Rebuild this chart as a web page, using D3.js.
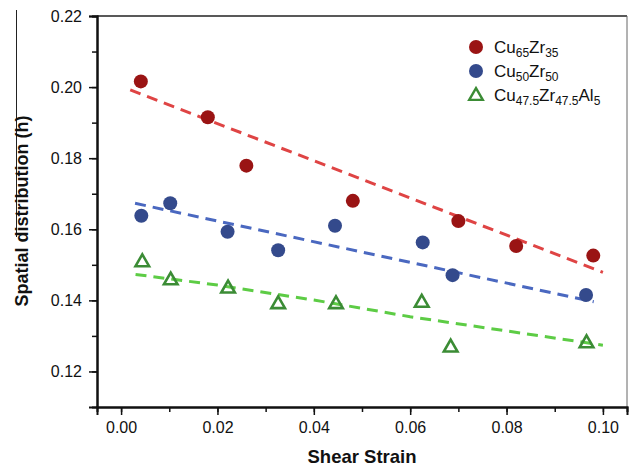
<!DOCTYPE html>
<html>
<head>
<meta charset="utf-8">
<script src="https://cdn.jsdelivr.net/npm/d3@7"></script>
<style>
  body { margin: 0; background: #fff; }
  svg { font-family: "Liberation Sans", Arial, sans-serif; }
</style>
</head>
<body>
<div class="chart"></div>
<script>
// data
var cu65X = [0.0041, 0.0180, 0.0260, 0.0481, 0.0700, 0.0820, 0.0980];
var cu65Y = [0.2016, 0.1915, 0.1779, 0.1680, 0.1623, 0.1553, 0.1526];
var cu50X = [0.0042, 0.0102, 0.0221, 0.0326, 0.0444, 0.0626, 0.0688, 0.0965];
var cu50Y = [0.1638, 0.1673, 0.1593, 0.1541, 0.1610, 0.1563, 0.1471, 0.1415];
var alX = [0.0044, 0.0103, 0.0222, 0.0326, 0.0446, 0.0624, 0.0684, 0.0966];
var alY = [0.1510, 0.1459, 0.1436, 0.1392, 0.1392, 0.1396, 0.1270, 0.1282];

// dashed fit lines
var fitRedX = [0.0019, 0.100];
var fitRedY = [0.1992, 0.1479];
var fitBlueX = [0.0029, 0.0981];
var fitBlueY = [0.1673, 0.1396];
var fitGreenX = [0.003, 0.02, 0.04, 0.06, 0.100];
var fitGreenY = [0.1473, 0.1443, 0.1401, 0.1354, 0.1274];

var xTicks = [0, 0.02, 0.04, 0.06, 0.08, 0.10];
var yTicks = [0.12, 0.14, 0.16, 0.18, 0.20, 0.22];

var width = 636, height = 471;
var margin = { top: 16, right: 9, bottom: 64, left: 97 };

var svg = d3.select(".chart")
    .append("svg")
    .attr("width", width)
    .attr("height", height);

var x = d3.scaleLinear()
    .domain([-0.005, 0.105])
    .range([margin.left, width - margin.right]);

var y = d3.scaleLinear()
    .domain([0.11, 0.22])
    .range([height - margin.bottom, margin.top]);

// stray line at far left of the original scan
svg.append("line")
    .attr("x1", 16.5).attr("x2", 16.5)
    .attr("y1", 10).attr("y2", 237)
    .attr("stroke", "#222")
    .attr("stroke-width", 1);

// frame top + right
svg.append("line")
    .attr("x1", x(-0.005)).attr("x2", x(0.105))
    .attr("y1", y(0.22)).attr("y2", y(0.22))
    .attr("stroke", "#222").attr("stroke-width", 1.5);
svg.append("line")
    .attr("x1", x(0.105)).attr("x2", x(0.105))
    .attr("y1", y(0.22)).attr("y2", y(0.11))
    .attr("stroke", "#666").attr("stroke-width", 1);

// minor ticks
var xMinor = d3.axisBottom(x).tickValues(d3.range(0, 0.1001, 0.01)).tickSize(5).tickFormat("");
var yMinor = d3.axisLeft(y).tickValues(d3.range(0.12, 0.2201, 0.01)).tickSize(5).tickFormat("");

var gxm = svg.append("g")
    .attr("transform", "translate(0," + y(0.11) + ")")
    .call(xMinor);
var gym = svg.append("g")
    .attr("transform", "translate(" + x(-0.005) + ",0)")
    .call(yMinor);
gxm.selectAll(".tick text").remove();
gym.selectAll(".tick text").remove();

var xAxis = d3.axisBottom(x).tickValues(xTicks).tickSize(8).tickPadding(7).tickFormat(d3.format(".2f"));
var yAxis = d3.axisLeft(y).tickValues(yTicks).tickSize(8).tickPadding(7).tickFormat(d3.format(".2f"));

var gx = svg.append("g")
    .attr("transform", "translate(0," + y(0.11) + ")")
    .call(xAxis);
var gy = svg.append("g")
    .attr("transform", "translate(" + x(-0.005) + ",0)")
    .call(yAxis);

[gxm, gym, gx, gy].forEach(function(g) {
  g.select(".domain").attr("stroke", "#111").attr("stroke-width", 2);
  g.selectAll(".tick line").attr("stroke", "#111").attr("stroke-width", 1.5);
  g.selectAll(".tick text").attr("fill", "#111").style("font-size", "16px")
      .style("font-family", "'Liberation Sans', Arial, sans-serif");
});

// axis labels
svg.append("text")
    .attr("x", 362)
    .attr("y", 463)
    .attr("text-anchor", "middle")
    .style("font-size", "18.5px")
    .style("font-weight", "bold")
    .attr("fill", "#111")
    .text("Shear Strain");

svg.append("text")
    .attr("transform", "translate(28,211) rotate(-90)")
    .attr("text-anchor", "middle")
    .style("font-size", "18px")
    .style("font-weight", "bold")
    .attr("fill", "#111")
    .text("Spatial distribution (h)");

// fit lines
var line = d3.line()
    .x(function(d) { return x(d[0]); })
    .y(function(d) { return y(d[1]); });

function fitLine(xs, ys, color) {
  svg.append("path")
      .datum(d3.zip(xs, ys))
      .attr("d", line)
      .attr("fill", "none")
      .attr("stroke", color)
      .attr("stroke-width", 3)
      .attr("stroke-dasharray", "11,7");
}
fitLine(fitRedX, fitRedY, "#df4444");
fitLine(fitBlueX, fitBlueY, "#4a68c0");
fitLine(fitGreenX, fitGreenY, "#5dcc45");

// markers
svg.selectAll(".red")
    .data(d3.zip(cu65X, cu65Y))
    .enter().append("circle")
    .attr("cx", function(d) { return x(d[0]); })
    .attr("cy", function(d) { return y(d[1]); })
    .attr("r", 7)
    .attr("fill", "#9a1414");

svg.selectAll(".blue")
    .data(d3.zip(cu50X, cu50Y))
    .enter().append("circle")
    .attr("cx", function(d) { return x(d[0]); })
    .attr("cy", function(d) { return y(d[1]); })
    .attr("r", 7)
    .attr("fill", "#344a8c");

var tri = d3.symbol().type(d3.symbolTriangle).size(80);
svg.selectAll(".green")
    .data(d3.zip(alX, alY))
    .enter().append("path")
    .attr("d", tri)
    .attr("transform", function(d) { return "translate(" + x(d[0]) + "," + (y(d[1]) + 1) + ")"; })
    .attr("fill", "none")
    .attr("stroke", "#3b8c35")
    .attr("stroke-width", 2.6);

// legend
var legend = [
  { kind: "circle", color: "#9a1414", parts: [["Cu", 0], ["65", 1], ["Zr", 0], ["35", 1]] },
  { kind: "circle", color: "#344a8c", parts: [["Cu", 0], ["50", 1], ["Zr", 0], ["50", 1]] },
  { kind: "tri", color: "#3b8c35", parts: [["Cu", 0], ["47.5", 1], ["Zr", 0], ["47.5", 1], ["Al", 0], ["5", 1]] }
];
legend.forEach(function(l, i) {
  var cy = 47 + i * 24;
  if (l.kind === "circle") {
    svg.append("circle").attr("cx", 476).attr("cy", cy).attr("r", 7).attr("fill", l.color);
  } else {
    svg.append("path").attr("d", tri)
        .attr("transform", "translate(476," + (cy + 1) + ")")
        .attr("fill", "none").attr("stroke", l.color).attr("stroke-width", 2.4);
  }
  var t = svg.append("text")
      .attr("x", 494)
      .attr("y", cy + 6)
      .style("font-size", "17px")
      .attr("fill", "#111");
  var shift = 0;
  l.parts.forEach(function(p) {
    var target = p[1] ? 4 : 0;
    t.append("tspan")
        .attr("dy", target - shift)
        .style("font-size", p[1] ? "12px" : "17px")
        .text(p[0]);
    shift = target;
  });
});
</script>
</body>
</html>
